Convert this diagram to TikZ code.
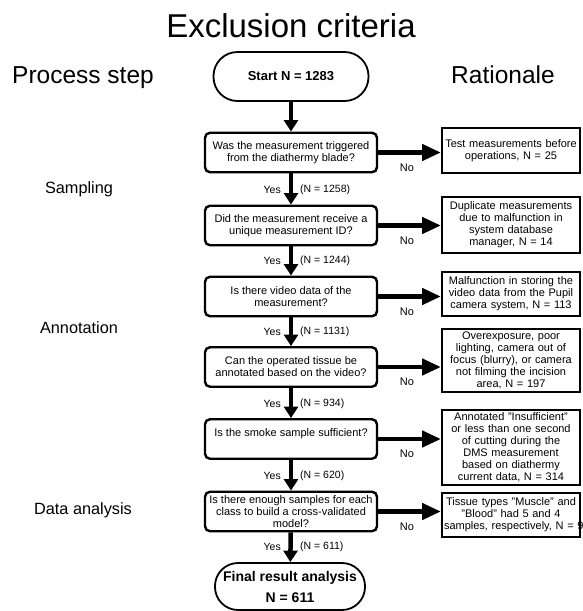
\documentclass[tikz,border=0pt]{standalone}
\usepackage{fontspec}
\setmainfont{Liberation Sans}
\usetikzlibrary{arrows.meta,calc}
\begin{document}
\begin{tikzpicture}[x=1pt,y=-1pt,
 qbox/.style={draw,line width=2.4pt,rounded corners=5pt,minimum width=172pt,minimum height=39.5pt,align=center,font=\fontsize{11}{12}\selectfont,inner sep=1pt},
 rbox/.style={draw,line width=2pt,minimum width=138pt,text width=134pt,align=center,font=\fontsize{11}{12}\selectfont,inner xsep=2pt,inner ysep=1pt},
 term/.style={draw,line width=1.8pt,align=center},
 varrow/.style={line width=4.5pt,-{Triangle[width=14pt,length=11.5pt]}},
 harrow/.style={line width=4.5pt,-{Triangle[width=16pt,length=19pt]}},
 lbl/.style={font=\fontsize{11}{12}\selectfont,inner sep=0pt},
 ylbl/.style={font=\fontsize{10.5}{12}\selectfont,inner sep=0pt},
 headtxt/.style={font=\fontsize{24.5}{28}\selectfont,anchor=base,inner sep=0pt},
 phase/.style={font=\fontsize{16.3}{18}\selectfont,anchor=base,inner sep=0pt}]
\useasboundingbox[fill=white] (0,0) rectangle (582,611);

% headings
\node[font=\fontsize{33}{36}\selectfont,anchor=base,inner sep=0pt] (title) at (291,37) {Exclusion criteria};
\node[headtxt] (proc) at (83,83) {Process step};
\node[headtxt] (rat) at (503,83) {Rationale};
\node[phase] (samp) at (79,193.5) {Sampling};
\node[phase] (anno) at (79,333) {Annotation};
\node[phase] (data) at (83,514) {Data analysis};

% terminals
\node[term,minimum width=155pt,minimum height=49pt,rounded corners=24pt,font=\bfseries\fontsize{13}{15}\selectfont] (start) at (291,76.5) {Start N = 1283};
\node[term,minimum width=150pt,minimum height=47pt,rounded corners=23pt,font=\bfseries\fontsize{14}{21}\selectfont] (final) at (290,586.5) {Final result analysis\\N = 611};

% questions
\node[qbox] (b1) at (291,152.5) {Was the measurement triggered\\from the diathermy blade?};
\node[qbox] (b2) at (291,225.5) {Did the measurement receive a\\unique measurement ID?};
\node[qbox] (b3) at (291,296.5) {Is there video data of the\\measurement?};
\node[qbox] (b4) at (291,367) {Can the operated tissue be\\annotated based on the video?};
\node[qbox] (b5) at (291,439) {Is the smoke sample sufficient?\\\mbox{}};
\node[qbox] (b6) at (291,511.5) {Is there enough samples for each\\class to build a cross-validated\\model?};

% rationale boxes
\node[rbox,minimum height=45pt] (r1) at (511,150.5) {Test measurements before\\operations, N = 25};
\node[rbox,minimum height=56pt] (r2) at (511,225) {Duplicate measurements\\due to malfunction in\\system database\\manager, N = 14};
\node[rbox,minimum height=44pt] (r3) at (511,293.5) {Malfunction in storing the\\video data from the Pupil\\camera system, N = 113};
\node[rbox,minimum height=63pt] (r4) at (511,360.5) {Overexposure, poor\\lighting, camera out of\\focus (blurry), or camera\\not filming the incision\\area, N = 197};
\node[rbox,minimum height=75pt] (r5) at (511,447.5) {Annotated "Insufficient"\\or less than one second\\of cutting during the\\DMS measurement\\based on diathermy\\current data, N = 314};
\node[rbox,minimum height=44pt] (r6) at (511,515) {Tissue types "Muscle" and\\"Blood" had 5 and 4\\\makebox[134pt][l]{samples, respectively, N = 9}};

% vertical arrows
\draw[varrow] (start) -- (b1);
\draw[varrow] (b1) -- (b2);
\draw[varrow] (b2) -- (b3);
\draw[varrow] (b3) -- (b4);
\draw[varrow] (b4) -- (b5);
\draw[varrow] (b5) -- (b6);
\draw[varrow] (b6) -- (final);

% horizontal arrows
\draw[harrow] (b1.east) -- (b1.east -| r1.west);
\draw[harrow] (b2.east) -- (b2.east -| r2.west);
\draw[harrow] (b3.east) -- (b3.east -| r3.west);
\draw[harrow] (b4.east) -- (b4.east -| r4.west);
\draw[harrow] (b5.east) -- (b5.east -| r5.west);
\draw[harrow] (b6.east) -- (b6.east -| r6.west);

% No labels
\node[lbl] (no1) at (407,167.5) {No};
\node[lbl] (no2) at (407,240.5) {No};
\node[lbl] (no3) at (407,311.5) {No};
\node[lbl] (no4) at (407,382) {No};
\node[lbl] (no5) at (407,454) {No};
\node[lbl] (no6) at (407,526.5) {No};

% Yes labels
\node[ylbl,anchor=east] (y1) at (281,189.5) {Yes};
\node[ylbl,anchor=west] (n1) at (300,189.5) {(N = 1258)};
\node[ylbl,anchor=east] (y2) at (281,261) {Yes};
\node[ylbl,anchor=west] (n2) at (300,261) {(N = 1244)};
\node[ylbl,anchor=east] (y3) at (281,332) {Yes};
\node[ylbl,anchor=west] (n3) at (300,332) {(N = 1131)};
\node[ylbl,anchor=east] (y4) at (281,403.5) {Yes};
\node[ylbl,anchor=west] (n4) at (300,403.5) {(N = 934)};
\node[ylbl,anchor=east] (y5) at (281,476) {Yes};
\node[ylbl,anchor=west] (n5) at (300,476) {(N = 620)};
\node[ylbl,anchor=east] (y6) at (281,547) {Yes};
\node[ylbl,anchor=west] (n6) at (300,547) {(N = 611)};
\end{tikzpicture}
\end{document}
